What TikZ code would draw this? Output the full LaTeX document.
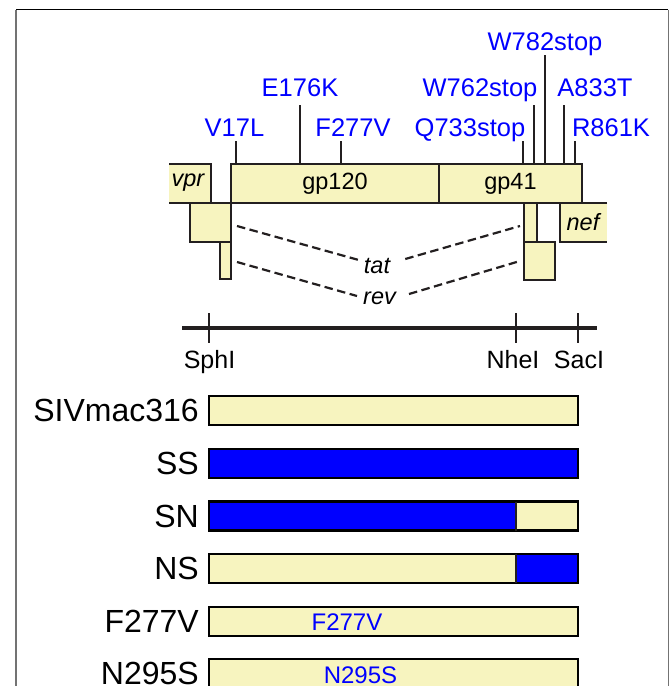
\documentclass[tikz,border=0pt]{standalone}
\usepackage{fontspec}
\setmainfont{Liberation Sans}
\usepackage{xcolor}
\usepackage{tikz}
\usetikzlibrary{positioning,calc}
\definecolor{envyellow}{HTML}{F7F4BF}
\definecolor{envblue}{HTML}{0000FF}
\definecolor{outline}{HTML}{231F20}

\begin{document}
\begin{tikzpicture}[x=1pt,y=-1pt,
    gene/.style={draw=outline, fill=envyellow, line width=2pt},
    genebox/.style={gene, rectangle, inner sep=0pt, outer sep=0pt, anchor=north west, minimum height=39pt, font=\fontsize{23.5}{23.5}\selectfont},
    mut/.style={text=envblue, anchor=base, inner sep=1pt, font=\fontsize{25.5}{25.5}\selectfont},
    mutline/.style={draw=outline, line width=1.7pt},
    splice/.style={draw=outline, line width=2.2pt, dash pattern=on 8.5pt off 4.5pt},
    orf/.style={inner sep=2pt, font=\fontsize{23.5}{23.5}\selectfont\itshape},
    site/.style={anchor=base, inner sep=0pt, font=\fontsize{25}{25}\selectfont},
    strain/.style={anchor=east, inner sep=0pt, font=\fontsize{32}{32}\selectfont},
    bar/.style={draw=black, line width=2.4pt}]

  \useasboundingbox (0,0) rectangle (670,686);
  \draw[black, line width=1pt] (16,9.5) -- (668,9.5);
  \draw[black!55, line width=1.5pt] (16,9.5) -- (16,690);
  \draw[black!55, line width=1pt] (668,9.5) -- (668,690);

  \foreach \x/\top in {236/141, 300/105, 341/141, 523/141, 534/105, 545/55, 564/105, 575/141}
    \draw[mutline] (\x,164) -- (\x,\top);
  \node[mut] (w782) at (545,50) {W782stop};
  \node[mut] (e176) at (300,96) {E176K};
  \node[mut] (w762) at (480,96) {W762stop};
  \node[mut] (a833) at (595,96) {A833T};
  \node[mut] (v17) at (234.5,136) {V17L};
  \node[mut] (f277) at (353,136) {F277V};
  \node[mut] (q733) at (470,136) {Q733stop};
  \node[mut] (r861) at (611,136) {R861K};

  \fill[envyellow] (169,164) rectangle (211,203);
  \draw[gene, fill=none] (169,164) -- (211,164) -- (211,203) -- (169,203);
  \node[orf] (vpr) at (188,183) {vpr};
  \fill[envyellow] (560,203) rectangle (607,242);
  \draw[gene, fill=none] (607,203) -- (560,203) -- (560,242) -- (607,242);
  \node[orf] (nef) at (583,222) {nef};

  \node[genebox, minimum width=208pt] (gp120) at (231,164) {gp120};
  \node[genebox, minimum width=143pt] (gp41) at (gp120.north east) {gp41};

  \draw[gene] (190,203) rectangle (230.5,242);
  \draw[gene] (220,242) rectangle (230.5,279);
  \draw[gene] (524,203) rectangle (537,242);
  \draw[gene] (524,242) rectangle (555,280);

  \coordinate (tatL) at (237,226);
  \coordinate (tatR) at (520,226);
  \coordinate (revL) at (237,262);
  \coordinate (revR) at (520,261);
  \node[orf] (tat) at (377,266) {tat};
  \node[orf] (rev) at (379.5,298) {rev};
  \draw[splice] (tatL) -- ([shift={(-3,-6)}]tat.west);
  \draw[splice] ([shift={(13,-7)}]tat.east) -- (tatR);
  \draw[splice] (revL) -- ([shift={(-4,-2)}]rev.west);
  \draw[splice] ([shift={(11,-4)}]rev.east) -- (revR);

  \draw[outline, line width=3.5pt] (182,328) -- (597,328);
  \foreach \x in {209.3, 516, 578.3}
    \draw[mutline] (\x,313) -- (\x,343);
  \node[site] (sph) at (209.5,368) {SphI};
  \node[site] (nhe) at (513,368) {NheI};
  \node[site] (sac) at (579,368) {SacI};

  \foreach \y/\name/\lcol/\rcol in {396/SIVmac316/envyellow/envyellow, 449/SS/envblue/envblue,
      501.5/SN/envblue/envyellow, 554/NS/envyellow/envblue,
      607/F277V/envyellow/envyellow, 659/N295S/envyellow/envyellow} {
    \fill[\lcol] (209,\y) rectangle (516,\y+29);
    \fill[\rcol] (516,\y) rectangle (578,\y+29);
    \draw[bar] (209,\y) rectangle (578,\y+29);
    \node[strain] (lab-\name) at (199,\y+14.5) {\name};
  }
  \draw[outline, line width=1.5pt] (516,501.5) -- (516,530.5);
  \draw[outline, line width=1.5pt] (516,554) -- (516,583);
  \node[mut, anchor=center, font=\fontsize{24}{24}\selectfont] (in-f277) at (347,622) {F277V};
  \node[mut, anchor=center, font=\fontsize{24}{24}\selectfont] (in-n295) at (360.5,675) {N295S};
\end{tikzpicture}
\end{document}
